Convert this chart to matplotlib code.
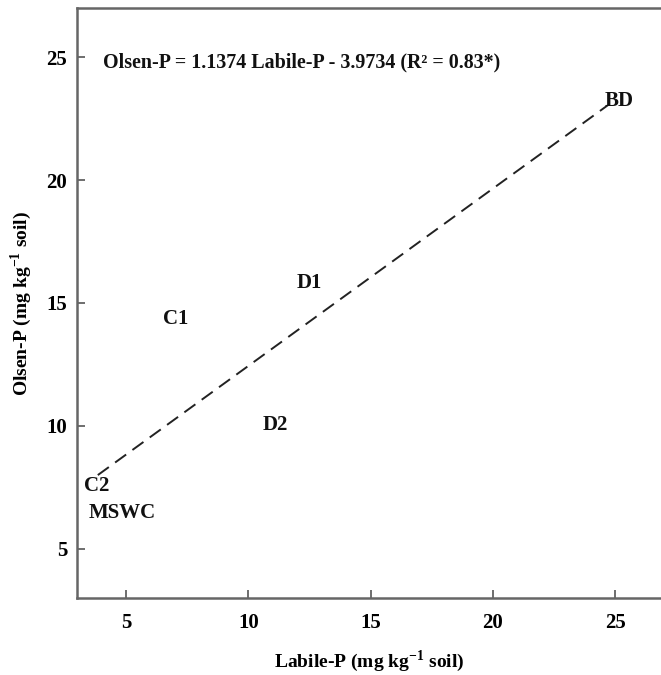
import matplotlib
matplotlib.use("Agg")
import matplotlib.pyplot as plt

# values
labels = ["BD", "D1", "C1", "D2", "C2", "MSWC"]
labile_p = [25.15, 12.5, 7.05, 11.1, 3.8, 4.85]
olsen_p = [23.2, 15.8, 14.35, 10.05, 7.55, 6.45]

# dashed regression line as drawn
fit_x = [3.85, 24.7]
fit_y = [8.0, 23.05]

equation = "Olsen-P = 1.1374 Labile-P - 3.9734 (R² = 0.83*)"
xticks = [5, 10, 15, 20, 25]
yticks = [5, 10, 15, 20, 25]

plt.rcParams['font.family'] = ['Liberation Serif', 'DejaVu Serif']
plt.rcParams['font.weight'] = 'bold'
plt.rcParams['mathtext.fontset'] = 'custom'
plt.rcParams['mathtext.rm'] = 'Liberation Serif:bold'
plt.rcParams['mathtext.bf'] = 'Liberation Serif:bold'

fig = plt.figure(figsize=(6.61, 6.75), dpi=100)
ax = fig.add_axes([77 / 661, 77 / 675, 1 - 77 / 661, (598 - 8) / 675])

ax.plot(fit_x, fit_y, color='#222222', lw=1.4, ls=(0, (7, 4)))

for lab, x, y in zip(labels, labile_p, olsen_p):
    ax.text(x, y, lab, ha='center', va='center', fontsize=15, fontweight='bold', color='#111111')

ax.text(4.05, 24.8, equation, ha='left', va='center', fontsize=14.4, fontweight='bold', color='#111111')

ax.set_xlim(3, 3 + (661 - 77) / 24.47)
ax.set_ylim(3, 27)
ax.set_xticks(xticks)
ax.set_yticks(yticks)
ax.tick_params(direction='in', length=6, width=1.2, color='#555555', labelsize=15)
ax.tick_params(axis='x', pad=11)
ax.tick_params(axis='y', pad=7)
for t in ax.get_xticklabels() + ax.get_yticklabels():
    t.set_fontweight('bold')

for side in ['left', 'bottom', 'top']:
    ax.spines[side].set_color('#666666')
    ax.spines[side].set_linewidth(1.8)
ax.spines['right'].set_visible(False)

ax.set_xlabel("Labile-P (mg kg$^{-1}$ soil)", fontsize=14, fontweight='bold', labelpad=11)
ax.set_ylabel("Olsen-P (mg kg$^{-1}$ soil)", fontsize=14, fontweight='bold', labelpad=9)

fig.savefig("out.png", dpi=100)
